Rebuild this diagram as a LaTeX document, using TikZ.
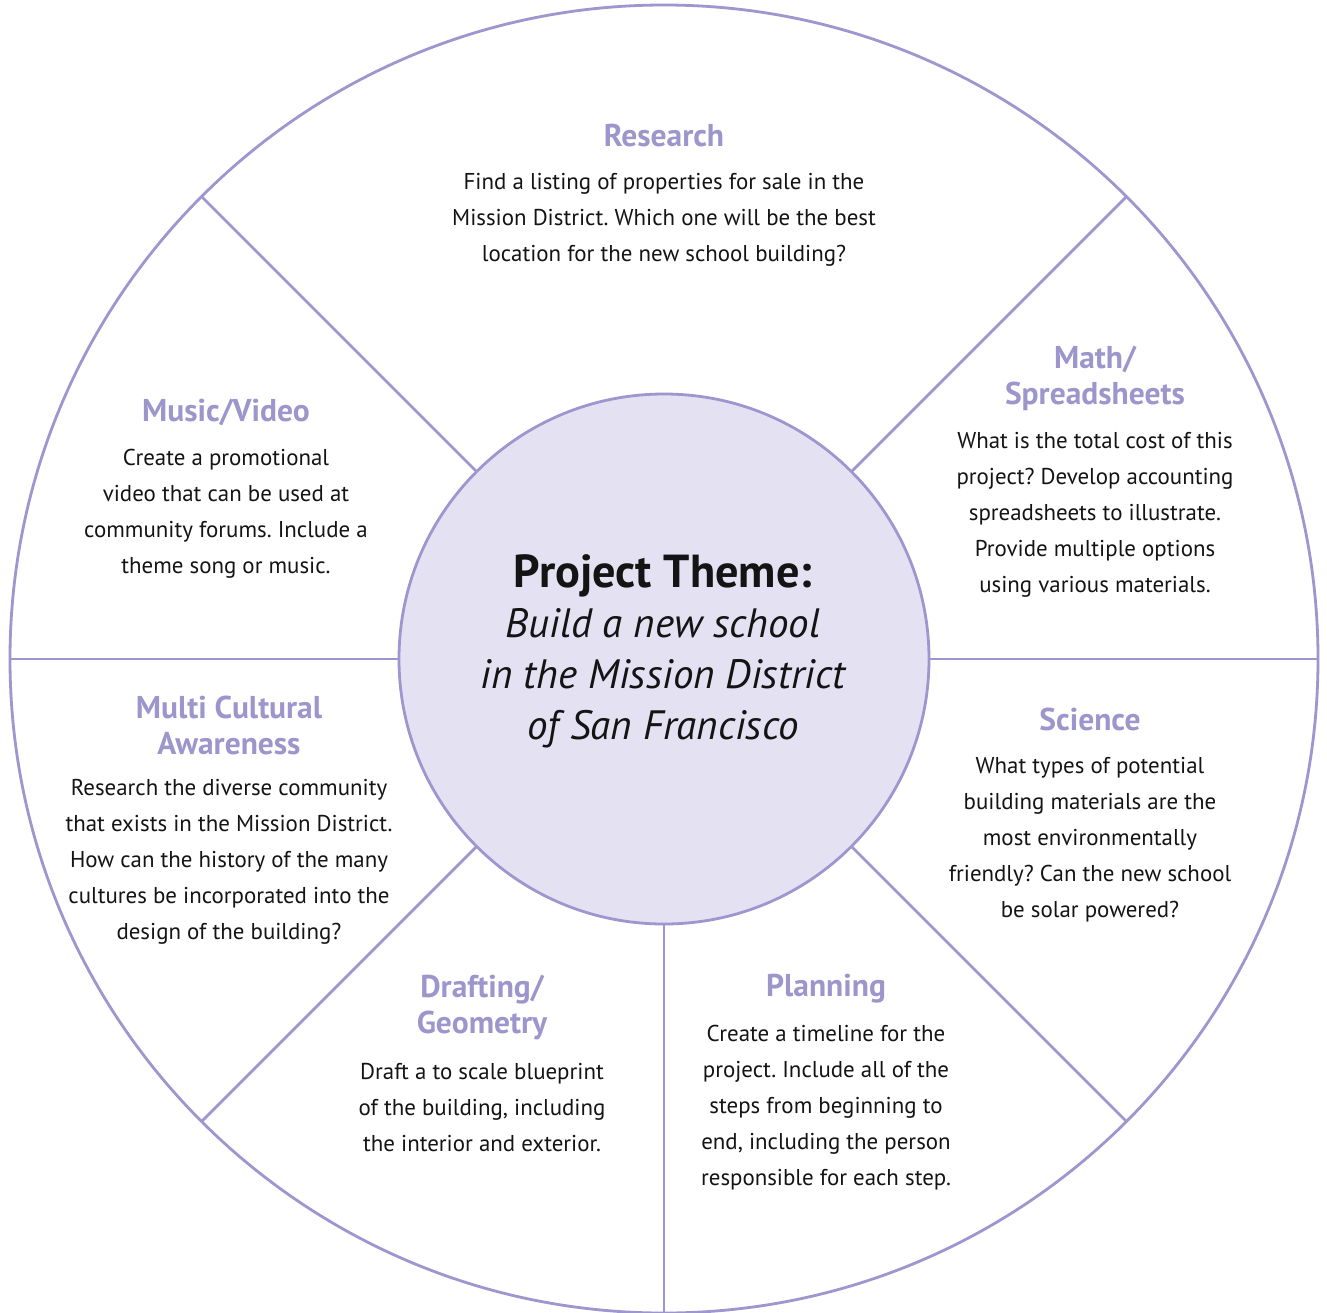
\documentclass[tikz,border=0pt]{standalone}
\usepackage{fontspec}
\setmainfont{PT Sans}
\definecolor{wheel}{RGB}{158,150,206}
\definecolor{hubfill}{RGB}{228,226,242}
\definecolor{headingcol}{RGB}{157,150,204}
\definecolor{bodytext}{RGB}{20,20,20}
\begin{document}
\frenchspacing
\begin{tikzpicture}[x=1pt,y=-1pt,
  wheelline/.style={draw=wheel, line width=2.8pt},
  heading/.style={font=\fontsize{31.5}{36}\selectfont\bfseries, text=headingcol, align=center, inner sep=0pt},
  body/.style={font=\fontsize{22.9}{36}\selectfont, text=bodytext, align=center, inner sep=0pt},
]
\useasboundingbox (0,0) rectangle (1327,1312);
\fill[white] (0,0) rectangle (1327,1312);

% outer rim and central hub
\node[circle, wheelline, inner sep=0pt, outer sep=0pt, minimum size=1308pt] (rim) at (664,659) {};
\node[circle, wheelline, fill=hubfill, inner sep=0pt, outer sep=0pt, minimum size=530pt] (hub) at (664,659) {};

% spokes dividing the wheel
\foreach \a in {0,45,135,180,225,270,315}
  \draw[wheelline] (hub.\a) -- (rim.\a);

% centre theme
\node[font=\fontsize{46.3}{51}\selectfont\bfseries, text=bodytext, inner sep=0pt] (themehead) at (663,576) {Project Theme:};
\node[font=\fontsize{41}{51}\selectfont\itshape, text=bodytext, align=center, inner sep=0pt] (themetext) at (663,678)
  {Build a new school\\in the Mission District\\of San Francisco};

% Research
\node[heading] (researchT) at (664,136) {Research};
\node[body] (researchB) at (664,220) {Find a listing of properties for sale in the\\Mission District. Which one will be the best\\location for the new school building?};

% Math / Spreadsheets
\node[heading] (mathT) at (1095,378) {Math/\\Spreadsheets};
\node[body] (mathB) at (1095,515) {What is the total cost of this\\project? Develop accounting\\spreadsheets to illustrate.\\Provide multiple options\\using various materials.};

% Science
\node[heading] (scienceT) at (1090,719) {Science};
\node[body] (scienceB) at (1090,840) {What types of potential\\building materials are the\\most environmentally\\friendly? Can the new school\\be solar powered?};

% Planning
\node[heading] (planT) at (826,989) {Planning};
\node[body] (planB) at (826,1108) {Create a timeline for the\\project. Include all of the\\steps from beginning to\\end, including the person\\responsible for each step.};

% Drafting / Geometry
\node[heading] (draftT) at (482,1007) {Drafting/\\Geometry};
\node[body] (draftB) at (482,1108) {Draft a to scale blueprint\\of the building, including\\the interior and exterior.};

% Multi Cultural Awareness
\node[heading] (cultureT) at (229,725) {Multi Cultural\\Awareness};
\node[body] (cultureB) at (229,862) {Research the diverse community\\that exists in the Mission District.\\How can the history of the many\\cultures be incorporated into the\\design of the building?};

% Music / Video
\node[heading] (musicT) at (226,412) {Music/Video};
\node[body] (musicB) at (226,514) {Create a promotional\\video that can be used at\\community forums. Include a\\theme song or music.};
\end{tikzpicture}
\end{document}
